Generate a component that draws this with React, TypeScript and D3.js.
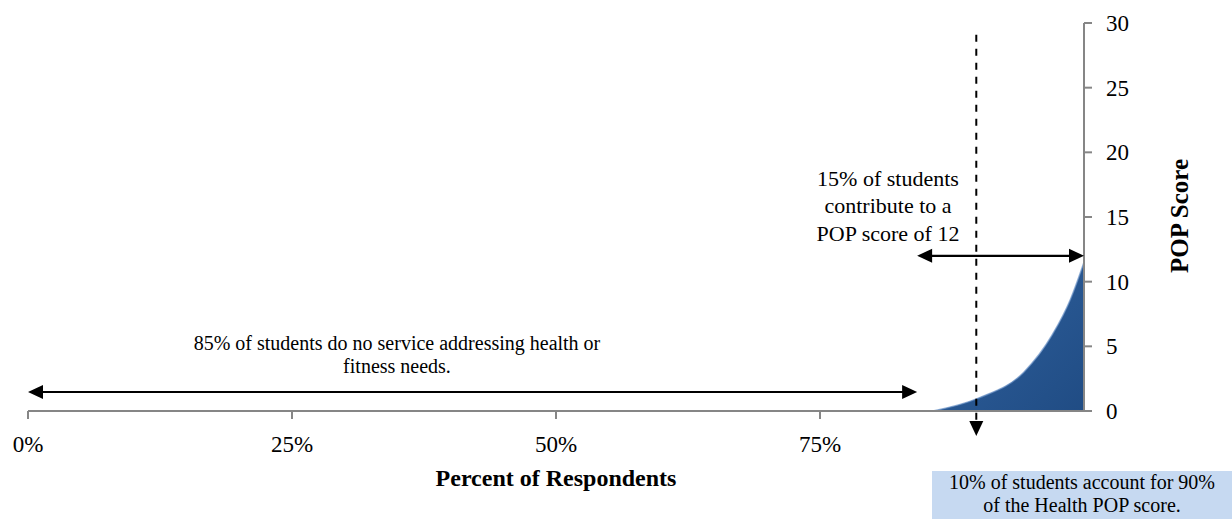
import React from "react";
import * as d3 from "d3";

const pctValues = [0.857, 0.9, 0.943, 0.97, 0.987, 1.0];
const popValues = [0, 1.0, 3.0, 5.9, 8.6, 11.5];
const xTicks = [0, 0.25, 0.5, 0.75];
const xTickLabels = ["0%", "25%", "50%", "75%"];
const yTicks = [0, 5, 10, 15, 20, 25, 30];

const W = 1232;
const H = 519;
const FONT = "'Liberation Serif', 'DejaVu Serif', serif";

export default function App() {
  const x = d3.scaleLinear().domain([0, 1]).range([28, 1084]);
  const y = d3.scaleLinear().domain([0, 30]).range([411, 23]);

  const data = pctValues.map((p, i) => ({ p, v: popValues[i] }));
  const area = d3
    .area<{ p: number; v: number }>()
    .x((d) => x(d.p))
    .y0(y(0))
    .y1((d) => y(d.v))
    .curve(d3.curveMonotoneX);
  const line = d3
    .line<{ p: number; v: number }>()
    .x((d) => x(d.p))
    .y((d) => y(d.v))
    .curve(d3.curveMonotoneX);

  const axisColor = "#868686";

  const arrowHead = (tx: number, ty: number, dir: "left" | "right" | "down") => {
    const L = 15;
    const Wd = 7;
    let pts: [number, number][];
    if (dir === "left") pts = [[tx, ty], [tx + L, ty - Wd], [tx + L, ty + Wd]];
    else if (dir === "right") pts = [[tx, ty], [tx - L, ty - Wd], [tx - L, ty + Wd]];
    else pts = [[tx, ty], [tx - Wd, ty - L], [tx + Wd, ty - L]];
    return <polygon points={pts.map((p) => p.join(",")).join(" ")} fill="#000" />;
  };

  const leftArrowY = y(1.47);
  const leftArrowX1 = x(0);
  const leftArrowX2 = x(0.842);
  const topArrowY = y(12);
  const topArrowX1 = x(0.842);
  const topArrowX2 = x(1);
  const dashX = x(0.898);
  const dashTop = y(29.1);
  const dashBottomTip = 436;

  return (
    <svg width={W} height={H} style={{ position: "absolute", left: 0, top: 0 }} fontFamily={FONT}>
      <defs>
        <linearGradient id="areaGrad" x1="0" y1="0" x2="1" y2="1">
          <stop offset="0" stopColor="#3163a0" />
          <stop offset="1" stopColor="#204c84" />
        </linearGradient>
      </defs>
      <rect width={W} height={H} fill="#fff" />

      <path d={area(data) || ""} fill="url(#areaGrad)" />
      <path d={line(data) || ""} fill="none" stroke="#6a92c6" strokeWidth={1.5} strokeOpacity={0.7} />

      {/* x axis */}
      <line x1={x(0)} x2={x(1)} y1={y(0)} y2={y(0)} stroke={axisColor} strokeWidth={2} />
      {xTicks.map((t, i) => (
        <g key={t}>
          <line x1={x(t)} x2={x(t)} y1={y(0)} y2={y(0) + 8} stroke={axisColor} strokeWidth={2} />
          <text x={x(t)} y={452} textAnchor="middle" fontSize={23} fill="#000">
            {xTickLabels[i]}
          </text>
        </g>
      ))}

      {/* y axis */}
      <line x1={x(1)} x2={x(1)} y1={y(0)} y2={y(30)} stroke={axisColor} strokeWidth={2} />
      {yTicks.map((t) => (
        <g key={t}>
          <line x1={x(1)} x2={x(1) + 8} y1={y(t)} y2={y(t)} stroke={axisColor} strokeWidth={2} />
          <text x={1106} y={y(t)} dy="0.35em" fontSize={23} fill="#000">
            {t}
          </text>
        </g>
      ))}

      {/* axis titles */}
      <text x={556} y={486} textAnchor="middle" fontSize={24} fontWeight="bold">
        Percent of Respondents
      </text>
      <text
        transform={`translate(1188,216) rotate(-90)`}
        textAnchor="middle"
        fontSize={25}
        fontWeight="bold"
      >
        POP Score
      </text>

      {/* left arrow */}
      <line x1={leftArrowX1 + 10} x2={leftArrowX2 - 10} y1={leftArrowY} y2={leftArrowY} stroke="#000" strokeWidth={2.2} />
      {arrowHead(leftArrowX1, leftArrowY, "left")}
      {arrowHead(leftArrowX2, leftArrowY, "right")}

      {/* top arrow */}
      <line x1={topArrowX1 + 10} x2={topArrowX2 - 10} y1={topArrowY} y2={topArrowY} stroke="#000" strokeWidth={2.2} />
      {arrowHead(topArrowX1, topArrowY, "left")}
      {arrowHead(topArrowX2, topArrowY, "right")}

      {/* dashed vertical */}
      <line x1={dashX} x2={dashX} y1={dashTop} y2={dashBottomTip - 12} stroke="#000" strokeWidth={2} strokeDasharray="7,7" />
      {arrowHead(dashX, dashBottomTip, "down")}

      {/* annotations */}
      <text x={397} y={350} textAnchor="middle" fontSize={20}>
        85% of students do no service addressing health or
      </text>
      <text x={397} y={373} textAnchor="middle" fontSize={20}>
        fitness needs.
      </text>

      <text x={888} y={186} textAnchor="middle" fontSize={22}>
        15% of students
      </text>
      <text x={888} y={213} textAnchor="middle" fontSize={22}>
        contribute to a
      </text>
      <text x={888} y={241} textAnchor="middle" fontSize={22}>
        POP score of 12
      </text>

      <rect x={932} y={471} width={300} height={48} fill="#c6d9f1" />
      <text x={1082} y={489} textAnchor="middle" fontSize={20}>
        10% of students account for 90%
      </text>
      <text x={1082} y={512} textAnchor="middle" fontSize={20}>
        of the Health POP score.
      </text>
    </svg>
  );
}
